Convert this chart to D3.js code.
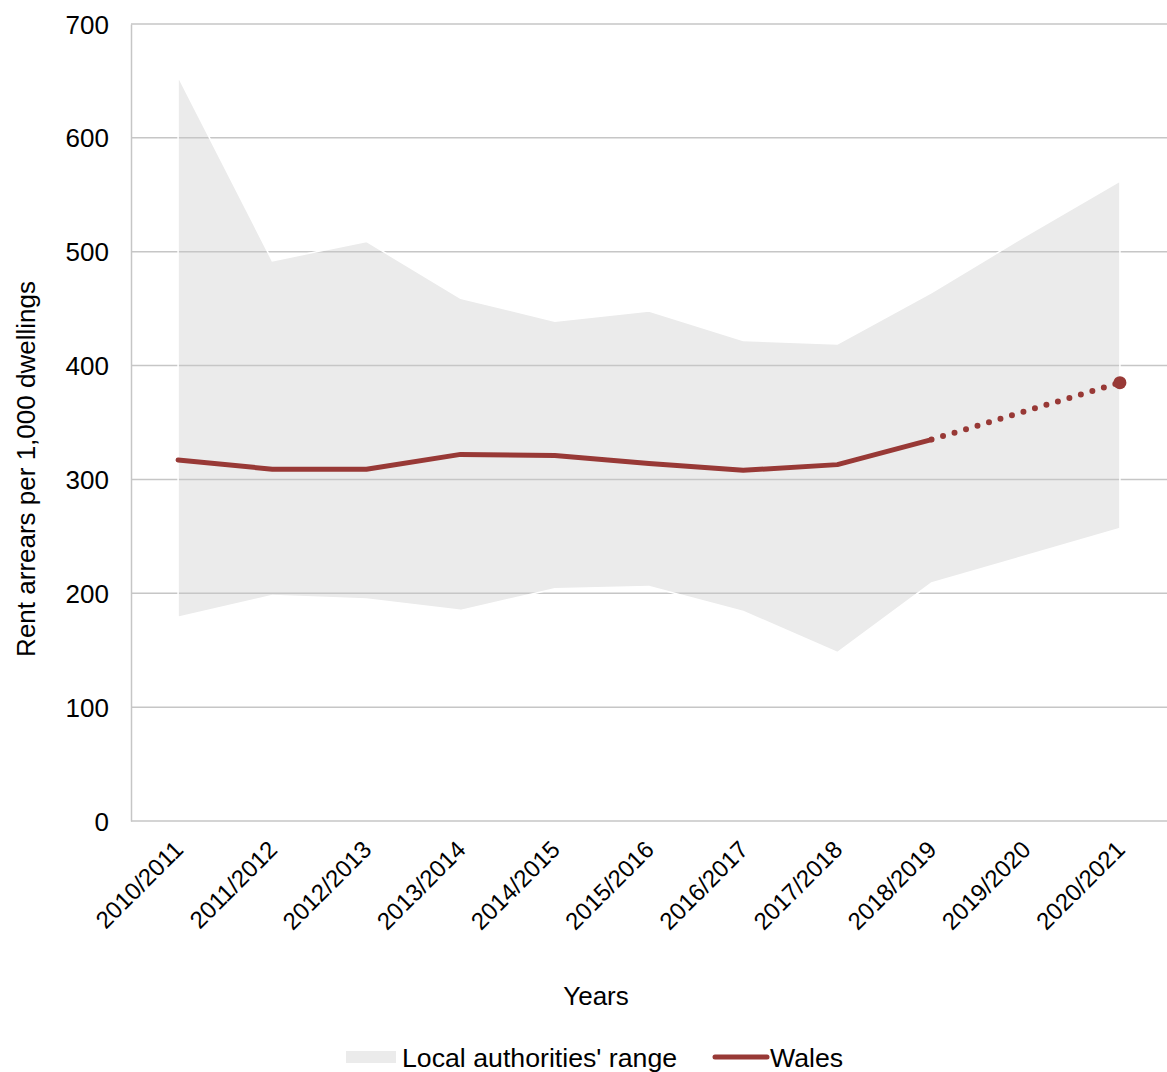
<!DOCTYPE html>
<html><head><meta charset="utf-8">
<script src="https://cdn.jsdelivr.net/npm/d3@7"></script>
<style>body{margin:0;background:#fff;} text{font-family:"Liberation Sans",Arial,sans-serif;fill:#000;}</style>
</head><body><svg id="c" width="1167" height="1072"></svg>
<script>
const categories = ["2010/2011","2011/2012","2012/2013","2013/2014","2014/2015","2015/2016","2016/2017","2017/2018","2018/2019","2019/2020","2020/2021"];
const rangeLow  = [179,198,195,185,204,206,184,148,209,233,257];
const rangeHigh = [654,492,509,459,439,448,422,419,464,514,562];
const wales     = [317,309,309,322,321,314,308,313,335,null,385];
const yTicks = [0,100,200,300,400,500,600,700];

const svg = d3.select("#c");
const M = {l:131, r:1167, t:24, b:821};
const x = d3.scalePoint().domain(categories).range([M.l, M.r]).padding(0.5);
const y = d3.scaleLinear().domain([0,700]).range([M.b, M.t]);
const red = "#983936";
const FONT = "Liberation Sans, Arial, sans-serif";

// area fill
const area = d3.area().x((d,i)=>x(categories[i])).y0((d,i)=>y(rangeLow[i])).y1((d,i)=>y(rangeHigh[i]));
svg.append("path").datum(rangeLow).attr("d", area).attr("fill","#ebebeb");

// gridlines
svg.append("g").selectAll("line").data(yTicks.filter(t=>t>0)).join("line")
  .attr("x1",M.l).attr("x2",M.r).attr("y1",d=>y(d)).attr("y2",d=>y(d))
  .attr("stroke","#c6c6c6").attr("stroke-width",1.5);

// area white outline
svg.append("path").datum(rangeLow).attr("d", area).attr("fill","none").attr("stroke","#fff").attr("stroke-width",1.5);

// axes
const yAxis = d3.axisLeft(y).tickValues(yTicks).tickSize(0).tickPadding(22);
const gy = svg.append("g").attr("transform",`translate(${M.l},0)`).call(yAxis);
gy.select(".domain").attr("stroke","#c6c6c6").attr("stroke-width",1.5);
gy.selectAll("text").style("font-size","26px").attr("dy","0.35em").attr("font-family",FONT);

const xAxis = d3.axisBottom(x).tickSize(0).tickPadding(0);
const gx = svg.append("g").attr("transform",`translate(0,${M.b})`).call(xAxis);
gx.select(".domain").attr("stroke","#c6c6c6").attr("stroke-width",1.5).attr("d",`M${M.l},0H${M.r}`);
gx.selectAll("text").style("font-size","24px").attr("font-family",FONT)
  .attr("text-anchor","end").attr("dy",null).attr("y",0)
  .attr("transform","translate(6,30) rotate(-45)");

// Wales line solid (2010/2011 to 2018/2019)
const idxSolid = wales.map((v,i)=>i).filter(i=>i<=8);
const line = d3.line().x(i=>x(categories[i])).y(i=>y(wales[i]));
svg.append("path").datum(idxSolid).attr("d",line).attr("fill","none").attr("stroke",red).attr("stroke-width",5).attr("stroke-linejoin","round").attr("stroke-linecap","round");
// dotted segment across the missing 2019/2020 value
svg.append("path").datum([8,10]).attr("d",line).attr("fill","none").attr("stroke",red).attr("stroke-width",6)
  .attr("stroke-dasharray","0 12").attr("stroke-dashoffset",-12).attr("stroke-linecap","round");
svg.append("circle").attr("cx",x(categories[10])).attr("cy",y(wales[10])).attr("r",6.5).attr("fill",red);

// titles
svg.append("text").attr("x",596).attr("y",1005).attr("text-anchor","middle").style("font-size","26px").text("Years");
svg.append("text").attr("transform","translate(35,469) rotate(-90)").attr("text-anchor","middle").style("font-size","26px").text("Rent arrears per 1,000 dwellings");

// legend
const lg = svg.append("g");
lg.append("rect").attr("x",346).attr("y",1051).attr("width",50).attr("height",12).attr("fill","#ebebeb");
lg.append("text").attr("x",402).attr("y",1067).style("font-size","26.7px").text("Local authorities' range");
lg.append("line").attr("x1",715).attr("x2",767).attr("y1",1057).attr("y2",1057).attr("stroke",red).attr("stroke-width",5).attr("stroke-linecap","round");
lg.append("text").attr("x",770).attr("y",1067).style("font-size","26.7px").text("Wales");
</script></body></html>
